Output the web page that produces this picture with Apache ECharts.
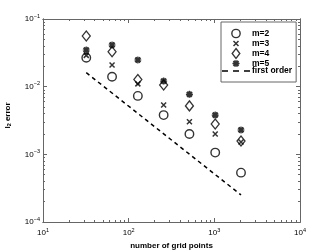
<!DOCTYPE html>
<html><head><meta charset="utf-8">
<script src="https://cdn.jsdelivr.net/npm/echarts@6/dist/echarts.min.js"></script>
<style>html,body{margin:0;padding:0;background:#fff}#c{width:332px;height:250px}</style>
</head><body><div id="c"></div>
<script>
const gridPoints = [32, 64, 128, 256, 512, 1024, 2048];
const m2 = [0.0268, 0.0140, 0.0073, 0.0038, 0.0020, 0.00106, 0.000536];
const m3 = [0.029, 0.0209, 0.011, 0.00536, 0.00304, 0.0020, 0.00152];
const m4 = [0.0561, 0.0329, 0.0128, 0.0106, 0.0052, 0.0028, 0.00157];
const m5 = [0.0348, 0.0413, 0.0248, 0.0121, 0.0077, 0.0038, 0.00229];
const firstOrderX = [32, 2048];
const firstOrderY = [0.0161, 0.000251];
const xTicks = [10, 100, 1000, 10000];
const yTicks = [0.0001, 0.001, 0.01, 0.1];

function minors(lo, hi) {
  const out = [];
  for (let d = lo; d < hi; d *= 10) for (let k = 2; k <= 9; k++) out.push(+(d * k).toPrecision(3));
  return out;
}
const xMinor = minors(10, 10000);
const yMinor = minors(0.0001, 0.1);

const AX = '#666';
const FONT = 'Liberation Sans';
const pow = v => {
  const e = Math.round(Math.log10(v));
  return '{b|10}{s|' + (e < 0 ? '\u2212' + (-e) : e) + '}';
};
const rich = {
  b: {fontSize: 8, fontFamily: FONT, color: '#000', lineHeight: 12},
  s: {fontSize: 5.5, fontFamily: FONT, color: '#000', verticalAlign: 'top', lineHeight: 8}
};
function pair(list) { return list.map((v, i) => [gridPoints[i], v]); }

const xBase = {type: 'log', min: 10, max: 10000, logBase: 10, splitLine: {show: false},
  axisLine: {show: true, onZero: false, lineStyle: {color: AX, width: 1}}};
const yBase = {type: 'log', min: 0.0001, max: 0.1, logBase: 10, splitLine: {show: false},
  axisLine: {show: true, onZero: false, lineStyle: {color: AX, width: 1}}};

const xAxes = [
  Object.assign({}, xBase, {position: 'bottom', name: 'number of grid points', nameLocation: 'middle', nameGap: 18,
    nameTextStyle: {fontFamily: FONT, fontSize: 8, fontWeight: 'bold', color: '#000'},
    axisTick: {show: true, inside: true, length: 4, lineStyle: {color: AX}, customValues: xTicks},
    axisLabel: {show: true, margin: 5, customValues: xTicks, formatter: pow, rich: rich}}),
  Object.assign({}, xBase, {position: 'bottom',
    axisTick: {show: true, inside: true, length: 2, lineStyle: {color: AX}, customValues: xMinor},
    axisLabel: {show: false}}),
  Object.assign({}, xBase, {position: 'top',
    axisTick: {show: true, inside: true, length: 4, lineStyle: {color: AX}, customValues: xTicks},
    axisLabel: {show: false}}),
  Object.assign({}, xBase, {position: 'top',
    axisTick: {show: true, inside: true, length: 2, lineStyle: {color: AX}, customValues: xMinor},
    axisLabel: {show: false}})
];
const yAxes = [
  Object.assign({}, yBase, {position: 'left', name: '{a|l}{u|2}{a| error}', nameLocation: 'middle', nameGap: 31, nameRotate: 90,
    nameTextStyle: {padding: [0, 0, 0, 10], rich: {a: {fontFamily: FONT, fontSize: 8, fontWeight: 'bold', color: '#000'},
      u: {fontFamily: FONT, fontSize: 5.5, fontWeight: 'bold', color: '#000', verticalAlign: 'bottom'}}},
    axisTick: {show: true, inside: true, length: 4, lineStyle: {color: AX}, customValues: yTicks},
    axisLabel: {show: true, margin: 3, customValues: yTicks, formatter: pow, rich: rich}}),
  Object.assign({}, yBase, {position: 'left',
    axisTick: {show: true, inside: true, length: 2, lineStyle: {color: AX}, customValues: yMinor},
    axisLabel: {show: false}}),
  Object.assign({}, yBase, {position: 'right',
    axisTick: {show: true, inside: true, length: 4, lineStyle: {color: AX}, customValues: yTicks},
    axisLabel: {show: false}}),
  Object.assign({}, yBase, {position: 'right',
    axisTick: {show: true, inside: true, length: 2, lineStyle: {color: AX}, customValues: yMinor},
    axisLabel: {show: false}})
];

const SYM_X = 'path://M0,0L10,10M10,0L0,10';
const SYM_D = 'path://M5,0L10,6.5L5,13L0,6.5Z';
const SYM_A = 'path://M5,0L5,10M0,5L10,5M1.5,1.5L8.5,8.5M8.5,1.5L1.5,8.5M2.5,0.7L7.5,9.3M7.5,0.7L2.5,9.3M0.7,2.5L9.3,7.5M0.7,7.5L9.3,2.5';
const hollow = w => ({color: 'none', borderColor: '#000', borderWidth: w});

const chart = echarts.init(document.getElementById('c'), null, {renderer: 'canvas'});
chart.setOption({
  animation: false,
  backgroundColor: '#fff',
  grid: {left: 43, right: 32, top: 19, bottom: 28, containLabel: false, outerBoundsMode: 'none'},
  xAxis: xAxes,
  yAxis: yAxes,
  legend: {
    orient: 'vertical', left: 221, top: 22, padding: [4, 4, 6, 1], itemGap: -5,
    itemWidth: 28, itemHeight: 10, symbolKeepAspect: true,
    borderColor: '#666', borderWidth: 1, borderRadius: 0, backgroundColor: '#fff',
    textStyle: {fontFamily: FONT, fontSize: 8.5, fontWeight: 'bold', color: '#000', lineHeight: 10, padding: [0, 0, 0, -3]},
    data: [
      {name: 'm=2', icon: 'path://M-1,-1M11,11M0,5A5,5,0,1,1,10,5A5,5,0,1,1,0,5Z', itemStyle: hollow(1.4)},
      {name: 'm=3', icon: 'path://M-5,-5M15,15M0,0L10,10M10,0L0,10', itemStyle: hollow(1.5)},
      {name: 'm=4', icon: SYM_D, itemStyle: hollow(1.3)},
      {name: 'm=5', icon: 'path://M-2,-2M12,12M5,0L5,10M0,5L10,5M1.5,1.5L8.5,8.5M8.5,1.5L1.5,8.5M2.5,0.7L7.5,9.3M7.5,0.7L2.5,9.3M0.7,2.5L9.3,7.5M0.7,7.5L9.3,2.5', itemStyle: hollow(1.2)},
      {name: 'first order', icon: 'path://M0,0H6V1.5H0ZM11,0H17V1.5H11ZM22,0H28V1.5H22Z', itemStyle: {color: '#000', borderWidth: 0}}
    ]
  },
  series: [
    {name: 'm=2', type: 'scatter', data: pair(m2), symbol: 'circle', symbolSize: 8.5, itemStyle: hollow(1.4)},
    {name: 'm=3', type: 'scatter', data: pair(m3), symbol: SYM_X, symbolSize: 5, itemStyle: hollow(1.5)},
    {name: 'm=4', type: 'scatter', data: pair(m4), symbol: SYM_D, symbolSize: [8, 10], itemStyle: hollow(1.3)},
    {name: 'm=5', type: 'scatter', data: pair(m5), symbol: SYM_A, symbolSize: 7, itemStyle: hollow(1.2)},
    {name: 'first order', type: 'line', data: firstOrderX.map((x, i) => [x, firstOrderY[i]]), symbol: 'none',
      lineStyle: {color: '#000', width: 1.5, type: [4, 3.5]}, itemStyle: {color: '#000'}}
  ]
});
</script></body></html>
